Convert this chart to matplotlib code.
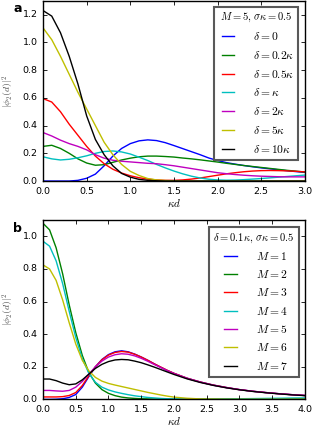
import matplotlib
matplotlib.use("Agg")
import matplotlib.pyplot as plt

# panel a: M=5, sigma*kappa=0.5, different detunings
xa = [0.0, 0.1, 0.2, 0.3, 0.4, 0.5, 0.6, 0.7, 0.8, 0.9, 1.0, 1.1, 1.2, 1.3, 1.4, 1.5,
      1.6, 1.7, 1.8, 1.9, 2.0, 2.1, 2.2, 2.3, 2.4, 2.5, 2.6, 2.7, 2.8, 2.9, 3.0]
a_d0 = [0.0, 0.0, 0.0, 0.0, 0.005, 0.02, 0.05, 0.11, 0.18, 0.235, 0.27, 0.29, 0.297, 0.292,
        0.277, 0.256, 0.234, 0.212, 0.19, 0.166, 0.148, 0.133, 0.122, 0.112, 0.103, 0.095,
        0.088, 0.081, 0.074, 0.068, 0.062]
a_d02 = [0.25, 0.258, 0.235, 0.2, 0.16, 0.13, 0.114, 0.118, 0.135, 0.152, 0.165, 0.175, 0.18,
         0.18, 0.177, 0.173, 0.166, 0.16, 0.153, 0.145, 0.137, 0.128, 0.12, 0.112, 0.105,
         0.098, 0.091, 0.084, 0.077, 0.071, 0.065]
a_d05 = [0.595, 0.57, 0.5, 0.41, 0.33, 0.25, 0.18, 0.125, 0.085, 0.058, 0.038, 0.024, 0.014,
         0.008, 0.005, 0.005, 0.008, 0.014, 0.022, 0.032, 0.042, 0.052, 0.06, 0.067, 0.072,
         0.075, 0.076, 0.075, 0.073, 0.07, 0.066]
a_d1 = [0.175, 0.16, 0.152, 0.157, 0.168, 0.182, 0.2, 0.213, 0.217, 0.21, 0.195, 0.172, 0.148,
        0.12, 0.095, 0.072, 0.052, 0.035, 0.022, 0.013, 0.008, 0.006, 0.007, 0.01, 0.014,
        0.018, 0.023, 0.028, 0.033, 0.038, 0.043]
a_d2 = [0.35, 0.325, 0.295, 0.27, 0.25, 0.225, 0.19, 0.165, 0.15, 0.143, 0.138, 0.133, 0.128,
        0.125, 0.118, 0.11, 0.1, 0.09, 0.08, 0.07, 0.06, 0.053, 0.047, 0.042, 0.038, 0.035,
        0.033, 0.031, 0.03, 0.03, 0.03]
a_d5 = [1.105, 1.02, 0.9, 0.77, 0.64, 0.52, 0.4, 0.28, 0.19, 0.12, 0.07, 0.04, 0.018, 0.008,
        0.004, 0.002, 0.001, 0.0, 0.0, 0.0, 0.0, 0.0, 0.0, 0.0, 0.0, 0.0, 0.0, 0.0, 0.0, 0.0, 0.0]
a_d10 = [1.23, 1.19, 1.07, 0.9, 0.7, 0.47, 0.3, 0.19, 0.11, 0.055, 0.028, 0.012, 0.005, 0.002,
         0.0, 0.0, 0.0, 0.0, 0.0, 0.0, 0.0, 0.0, 0.0, 0.0, 0.0, 0.0, 0.0, 0.0, 0.0, 0.0, 0.0]
labels_a = [r"$\delta=0$", r"$\delta=0.2\kappa$", r"$\delta=0.5\kappa$", r"$\delta=\kappa$",
            r"$\delta=2\kappa$", r"$\delta=5\kappa$", r"$\delta=10\kappa$"]

# panel b: delta=0.1 kappa, sigma*kappa=0.5, different M
xb = [0.0, 0.1, 0.2, 0.3, 0.4, 0.5, 0.6, 0.7, 0.8, 0.9, 1.0, 1.1, 1.2, 1.3, 1.4, 1.5,
      1.6, 1.7, 1.8, 1.9, 2.0, 2.2, 2.4, 2.6, 2.8, 3.0, 3.2, 3.4, 3.6, 3.8, 4.0]
b_m1 = [0.0, 0.0, 0.001, 0.004, 0.012, 0.03, 0.075, 0.14, 0.2, 0.245, 0.275, 0.292, 0.298,
        0.292, 0.278, 0.26, 0.24, 0.218, 0.197, 0.177, 0.16, 0.13, 0.107, 0.088, 0.073, 0.06,
        0.05, 0.042, 0.035, 0.029, 0.024]
b_m2 = [1.08, 1.04, 0.93, 0.77, 0.58, 0.41, 0.27, 0.165, 0.1, 0.06, 0.037, 0.023, 0.014,
        0.009, 0.006, 0.004, 0.003, 0.002, 0.002, 0.001, 0.001, 0.001, 0.001, 0.002, 0.002,
        0.003, 0.003, 0.004, 0.004, 0.005, 0.005]
b_m3 = [0.015, 0.015, 0.015, 0.017, 0.024, 0.042, 0.085, 0.145, 0.2, 0.243, 0.272, 0.288,
        0.294, 0.29, 0.277, 0.26, 0.24, 0.218, 0.198, 0.178, 0.16, 0.13, 0.107, 0.088, 0.073,
        0.06, 0.05, 0.042, 0.035, 0.029, 0.024]
b_m4 = [0.97, 0.94, 0.85, 0.71, 0.54, 0.38, 0.25, 0.16, 0.105, 0.075, 0.058, 0.046, 0.037,
        0.029, 0.022, 0.017, 0.012, 0.009, 0.006, 0.004, 0.003, 0.002, 0.002, 0.002, 0.003,
        0.004, 0.005, 0.006, 0.007, 0.008, 0.009]
b_m5 = [0.055, 0.055, 0.052, 0.05, 0.055, 0.075, 0.11, 0.155, 0.2, 0.235, 0.26, 0.274, 0.28,
        0.277, 0.267, 0.252, 0.234, 0.214, 0.195, 0.176, 0.158, 0.129, 0.106, 0.087, 0.072,
        0.06, 0.05, 0.042, 0.035, 0.029, 0.024]
b_m6 = [0.825, 0.8, 0.73, 0.61, 0.47, 0.34, 0.24, 0.175, 0.135, 0.112, 0.098, 0.088, 0.079,
        0.07, 0.061, 0.052, 0.043, 0.035, 0.027, 0.02, 0.014, 0.007, 0.003, 0.002, 0.001,
        0.001, 0.001, 0.001, 0.001, 0.001, 0.001]
b_m7 = [0.125, 0.125, 0.115, 0.1, 0.09, 0.095, 0.12, 0.155, 0.19, 0.215, 0.232, 0.242, 0.245,
        0.243, 0.235, 0.225, 0.212, 0.198, 0.183, 0.168, 0.153, 0.126, 0.104, 0.086, 0.071,
        0.059, 0.049, 0.041, 0.034, 0.028, 0.023]
labels_b = [r"$M=1$", r"$M=2$", r"$M=3$", r"$M=4$", r"$M=5$", r"$M=6$", r"$M=7$"]

colors = ["b", "g", "r", "c", "m", "y", "k"]

plt.style.use("classic")
plt.rcParams["mathtext.fontset"] = "cm"
plt.rcParams["font.size"] = 7

fig = plt.figure(figsize=(3.14, 4.29), dpi=100, facecolor="white")
ax_a = fig.add_axes([0.137, 0.578, 0.834, 0.420])
ax_b = fig.add_axes([0.137, 0.069, 0.834, 0.418])


def _draw(axis, x, series, labels, title, xmax, ymax, anchor, spacing):
    for values, label, color in zip(series, labels, colors):
        axis.plot(x, values, color=color, linewidth=1.0, label=label)
    axis.set_xlim(0, xmax)
    axis.set_ylim(0, ymax)
    axis.set_xticks([i * 0.5 for i in range(int(xmax * 2) + 1)])
    axis.tick_params(labelsize=6.8, length=3, width=0.6)
    axis.set_xlabel(r"$\kappa d$", fontsize=8, labelpad=1)
    axis.set_ylabel(r"$|\phi_2(d)|^2$", fontsize=7, labelpad=5, color="0.3")
    leg = axis.legend(loc="upper right", bbox_to_anchor=anchor, borderaxespad=0,
                      title=title, fontsize=8.3, handlelength=1.7, handletextpad=1.3,
                      labelspacing=spacing, borderpad=0.35, fancybox=False, frameon=True)
    leg.get_title().set_fontsize(7.6)
    leg.get_frame().set_edgecolor("0.35")
    leg.get_frame().set_linewidth(1.5)


_draw(ax_a, xa, [a_d0, a_d02, a_d05, a_d1, a_d2, a_d5, a_d10], labels_a,
      r"$M=5,\,\sigma\kappa=0.5$", 3.0, 1.3, (0.973, 0.967), 0.5)
ax_a.set_yticks([0.0, 0.2, 0.4, 0.6, 0.8, 1.0, 1.2])
_draw(ax_b, xb, [b_m1, b_m2, b_m3, b_m4, b_m5, b_m6, b_m7], labels_b,
      r"$\delta=0.1\kappa,\,\sigma\kappa=0.5$", 4.0, 1.1, (0.977, 0.961), 0.46)
ax_b.set_yticks([0.0, 0.2, 0.4, 0.6, 0.8, 1.0])

fig.text(13 / 314, 1 - 12 / 429, "a", fontsize=9, fontweight="bold")
fig.text(13 / 314, 1 - 232 / 429, "b", fontsize=9, fontweight="bold")

fig.savefig("out.png", dpi=100, facecolor="white")
